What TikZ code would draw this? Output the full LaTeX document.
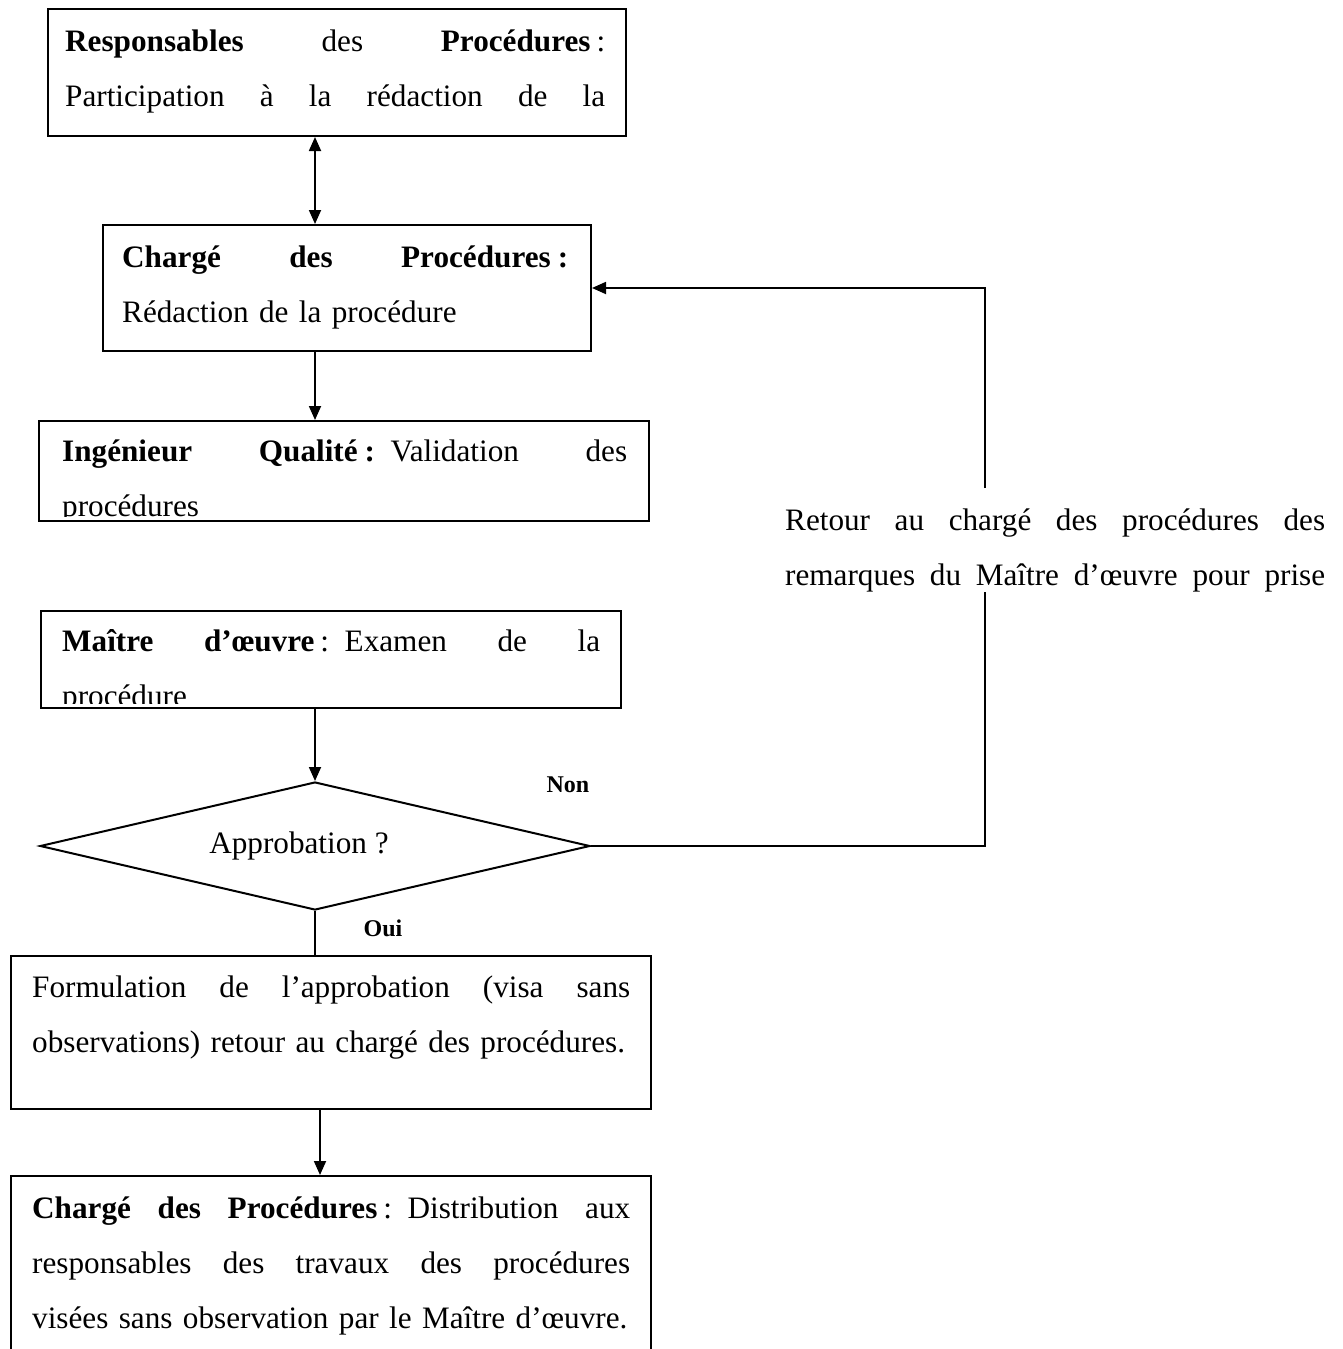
\documentclass[tikz,border=0pt]{standalone}
\usepackage{fontspec}
\setmainfont{Liberation Serif}
\usetikzlibrary{arrows.meta,calc,shapes.geometric}

% a line spread out to a given width (justified line): every word space stretches
\newcommand\spreadline[2]{\makebox[#1][s]{\spaceskip=0.25em plus 1fil\relax #2}}

\begin{document}
\begin{tikzpicture}[x=1pt,y=-1pt,
  frame/.style={draw,line width=2pt,inner sep=0pt,anchor=north west},
  flow/.style={line width=1.8pt,-{Triangle[length=14pt,width=12pt]}},
  twoway/.style={line width=1.8pt,{Triangle[length=14pt,width=12pt]}-{Triangle[length=14pt,width=12pt]}},
  link/.style={line width=1.8pt},
  body/.style={anchor=base west,inner sep=0pt,text width=#1,align=left,
    font=\fontsize{31.2}{55}\selectfont},
  tag/.style={inner sep=0pt,font=\fontsize{24}{28}\selectfont\bfseries}
]
% page area
\clip (0,0) rectangle (1343,1349);
\fill[white] (0,0) rectangle (1343,1349);

% vertical guide lines for the main column of connectors
\coordinate (spine) at (315,0);
\coordinate (spinelow) at (320,0);

% ---- boxes ----
\node[frame,minimum width=578pt,minimum height=127pt] (b1) at (47,8) {};
\node[frame,minimum width=488pt,minimum height=126pt] (b2) at (102,224) {};
\node[frame,minimum width=610pt,minimum height=100pt] (b3) at (38,420) {};
\node[frame,minimum width=580pt,minimum height=97pt]  (b4) at (40,610) {};
\node[frame,minimum width=640pt,minimum height=153pt] (b5) at (10,955) {};
\node[frame,minimum width=640pt,minimum height=220pt] (b6) at (10,1175) {};
\node[draw,diamond,line width=2pt,inner sep=0pt,
      minimum width=550pt,minimum height=128pt] (d) at (315,846) {};

% ---- box texts (each clipped to its box) ----
\begin{scope}
\clip (b1.north west) rectangle ($(b1.south east)+(0,-4)$);
\node[body=700pt] (t1) at (65,51)
  {\spreadline{540pt}{\textbf{Responsables} des \textbf{Procédures}\hspace{6pt}:}\\
   \spreadline{540pt}{Participation à la rédaction de la}\\
   \mbox{procédure}};
\end{scope}

\begin{scope}
\clip (b2.north west) rectangle ($(b2.south east)+(0,-4)$);
\node[body=700pt] (t2) at (122,267)
  {\spreadline{446pt}{\textbf{Chargé des Procédures\hspace{7pt}:}}\\
   \mbox{Rédaction de la procédure}};
\end{scope}

\begin{scope}
\clip (b3.north west) rectangle ($(b3.south east)+(0,-6)$);
\node[body=700pt] (t3) at (62,461)
  {\spreadline{565pt}{\textbf{Ingénieur Qualité\hspace{7pt}:} Validation des}\\
   \mbox{procédures}};
\end{scope}

\begin{scope}
\clip (b4.north west) rectangle ($(b4.south east)+(0,-6)$);
\node[body=700pt] (t4) at (62,651)
  {\spreadline{538pt}{\textbf{Maître d’œuvre}\hspace{6pt}: Examen de la}\\
   \mbox{procédure}};
\end{scope}

\begin{scope}
\clip (b5.north west) rectangle (b5.south east);
\node[body=700pt] (t5) at (32,997)
  {\spreadline{598pt}{Formulation de l’approbation (visa sans}\\
   \mbox{observations) retour au chargé des procédures.}};
\end{scope}

\begin{scope}
\clip (b6.north west) rectangle (b6.south east);
\node[body=700pt] (t6) at (32,1218)
  {\spreadline{598pt}{\textbf{Chargé des Procédures}\hspace{6pt}: Distribution aux}\\
   \spreadline{598pt}{responsables des travaux des procédures}\\
   \mbox{visées sans observation par le Maître d’œuvre.}};
\end{scope}

\node[inner sep=0pt,font=\fontsize{31.2}{40}\selectfont] (q) at (299,846) {Approbation ?};
\node[tag] (non) at (568,785) {Non};
\node[tag] (oui) at (383,928) {Oui};

% ---- return path note ----
\node[body=700pt] (note) at (785,530)
  {\spreadline{540pt}{Retour au chargé des procédures des}\\
   \spreadline{540pt}{remarques du Maître d’œuvre pour prise}};

% ---- connectors ----
\draw[twoway] (b1.south -| spine) -- (b2.north -| spine);
\draw[flow] (b2.south -| spine) -- (b3.north -| spine);
\draw[flow] (b4.south -| spine) -- (d.north);
\draw[link] (d.south) -- (b5.north -| d.south);
\draw[flow] (b5.south -| spinelow) -- (b6.north -| spinelow);

\coordinate (fbtop) at (985,488);
\coordinate (fbbot) at (985,592);
\draw[link] (d.east) -| (fbbot);
\draw[flow] (fbtop) |- (b2.east);
\end{tikzpicture}
\end{document}
